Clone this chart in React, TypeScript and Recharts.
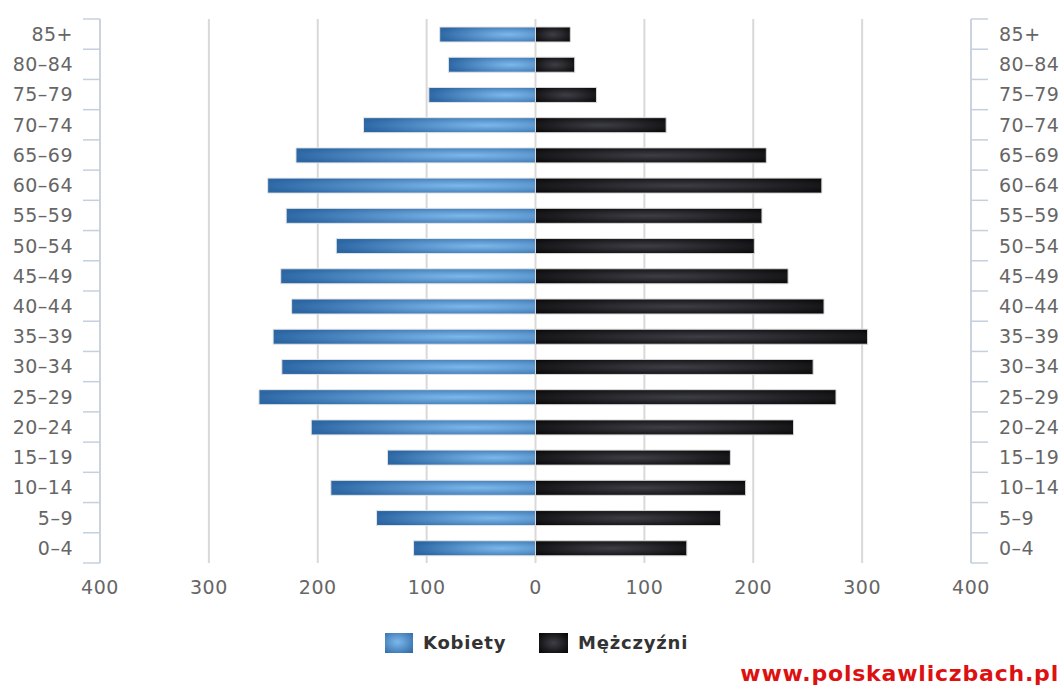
import React from 'react';
import { BarChart, Bar, XAxis, YAxis, CartesianGrid } from 'recharts';

const ageGroups = ['85+', '80–84', '75–79', '70–74', '65–69', '60–64', '55–59', '50–54', '45–49', '40–44', '35–39', '30–34', '25–29', '20–24', '15–19', '10–14', '5–9', '0–4'];
const kobiety = [88, 80, 98, 158, 220, 246, 229, 183, 234, 224, 241, 233, 254, 206, 136, 188, 146, 112];
const mezczyzni = [32, 36, 56, 120, 212, 263, 208, 201, 232, 265, 305, 255, 276, 237, 179, 193, 170, 139];
const xTicks = [-400, -300, -200, -100, 0, 100, 200, 300, 400];
const seriesNames = ['Kobiety', 'Mężczyźni'];

const data = ageGroups.map((g, i) => ({ group: g, kobiety: -kobiety[i], mezczyzni: mezczyzni[i] }));

const W = 1061;
const H = 608;
const M_TOP = 19;
const LEFT_W = 100;
const RIGHT_W = 90;
const X_H = 45;
const PLOT_H = H - M_TOP - X_H;
const BAND = PLOT_H / ageGroups.length;
const LEFT_AXIS_X = LEFT_W;
const RIGHT_AXIS_X = W - RIGHT_W;
const AXIS_COLOR = '#c4d0df';
const LABEL_FONT = { fontFamily: 'DejaVu Sans', fontSize: 19, letterSpacing: 0.5, fill: '#666' };

function YTick(props: any) {
  const { y, payload, index, side } = props;
  const left = side === 'left';
  const ax = left ? LEFT_AXIS_X : RIGHT_AXIS_X;
  const x1 = left ? ax - 17 : ax;
  const x2 = left ? ax : ax + 17;
  const top = y - BAND / 2;
  const bottom = y + BAND / 2;
  return (
    <g>
      <line x1={x1} x2={x2} y1={top} y2={top} stroke={AXIS_COLOR} strokeWidth={1.5} />
      {index === ageGroups.length - 1 && (
        <line x1={x1} x2={x2} y1={bottom} y2={bottom} stroke={AXIS_COLOR} strokeWidth={1.5} />
      )}
      <text
        x={left ? ax - 27 : ax + 28}
        y={y}
        dy="0.36em"
        textAnchor={left ? 'end' : 'start'}
        {...LABEL_FONT}
      >
        {payload.value}
      </text>
    </g>
  );
}

function XTick(props: any) {
  const { x, y, payload } = props;
  return (
    <text x={x} y={y} dy="0.36em" textAnchor="middle" {...LABEL_FONT}>
      {Math.abs(payload.value)}
    </text>
  );
}

export default function App() {
  return (
    <div style={{ position: 'fixed', left: 0, top: 0, width: W, height: 689, background: '#fff' }}>
      <BarChart
        width={W}
        height={H}
        data={data}
        layout="vertical"
        stackOffset="sign"
        margin={{ top: M_TOP, right: 0, bottom: 0, left: 0 }}
      >
        <defs>
          <radialGradient id="gBlue" cx="0.72" cy="0.5" r="0.75" fx="0.72" fy="0.5">
            <stop offset="0%" stopColor="#7db8ec" />
            <stop offset="100%" stopColor="#2c66a3" />
          </radialGradient>
          <radialGradient id="gBlack" cx="0.5" cy="0.5" r="0.75">
            <stop offset="0%" stopColor="#3e3e46" />
            <stop offset="100%" stopColor="#030303" />
          </radialGradient>
        </defs>
        <CartesianGrid horizontal={false} stroke="#d9d9d9" strokeWidth={2} />
        <XAxis
          type="number"
          domain={[-400, 400]}
          ticks={xTicks}
          axisLine={false}
          tickLine={false}
          tickSize={0}
          tickMargin={24}
          height={X_H}
          tick={(p: any) => <XTick {...p} y={M_TOP + PLOT_H + 24} />}
          interval={0}
        />
        <YAxis
          yAxisId="left"
          type="category"
          dataKey="group"
          orientation="left"
          width={LEFT_W}
          axisLine={{ stroke: AXIS_COLOR, strokeWidth: 1.5 }}
          tickLine={false}
          interval={0}
          tick={(p: any) => <YTick {...p} side="left" />}
        />
        <YAxis
          yAxisId="right"
          type="category"
          dataKey="group"
          orientation="right"
          width={RIGHT_W}
          axisLine={{ stroke: AXIS_COLOR, strokeWidth: 1.5 }}
          tickLine={false}
          interval={0}
          tick={(p: any) => <YTick {...p} side="right" />}
        />
        <Bar
          yAxisId="left"
          dataKey="kobiety"
          name={seriesNames[0]}
          stackId="a"
          barSize={15}
          fill="url(#gBlue)"
          stroke="#e4e4e4"
          strokeWidth={1}
          isAnimationActive={false}
        />
        <Bar
          yAxisId="left"
          dataKey="mezczyzni"
          name={seriesNames[1]}
          stackId="a"
          barSize={15}
          fill="url(#gBlack)"
          stroke="#d8d8d8"
          strokeWidth={1}
          isAnimationActive={false}
        />
      </BarChart>
      <div style={{ position: 'absolute', left: 385, top: 633, width: 28, height: 20, background: 'radial-gradient(ellipse at 45% 45%, #7db8ec, #2c66a3)' }} />
      <div style={{ position: 'absolute', left: 423, top: 631, fontFamily: 'DejaVu Sans', fontWeight: 'bold', fontSize: 18, letterSpacing: 0.8, color: '#333', lineHeight: '24px' }}>{seriesNames[0]}</div>
      <div style={{ position: 'absolute', left: 539, top: 633, width: 29, height: 20, background: 'radial-gradient(ellipse at 50% 50%, #3e3e46, #030303)' }} />
      <div style={{ position: 'absolute', left: 578, top: 631, fontFamily: 'DejaVu Sans', fontWeight: 'bold', fontSize: 18, letterSpacing: 0.8, color: '#333', lineHeight: '24px' }}>{seriesNames[1]}</div>
      <div style={{ position: 'absolute', right: 2, top: 660, fontFamily: 'DejaVu Sans', fontWeight: 'bold', fontSize: 22, letterSpacing: 0.8, color: '#dd1111', lineHeight: '28px', whiteSpace: 'nowrap' }}>www.polskawliczbach.pl</div>
    </div>
  );
}
